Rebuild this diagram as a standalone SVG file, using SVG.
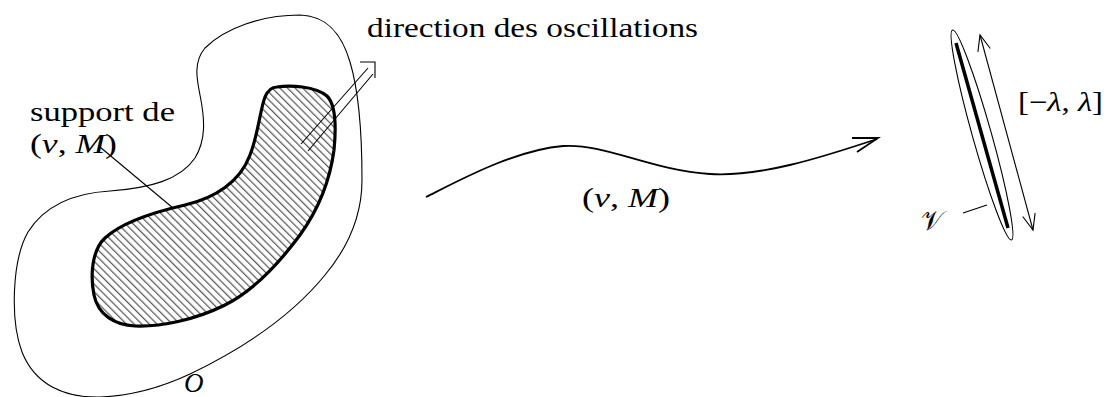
<svg xmlns="http://www.w3.org/2000/svg" width="1106" height="397" viewBox="0 0 1106 397">
<style>
  .thin{fill:none;stroke:#000;stroke-width:1.1}
  .mid{fill:none;stroke:#000;stroke-width:1.8}
  .thick{stroke:#000;stroke-width:3.2;stroke-linejoin:round}
  text{font-family:'Liberation Serif','Times New Roman',serif;font-size:27px;fill:#000}
  .it{font-style:italic}
</style>
<defs>
  <pattern id="hatch" patternUnits="userSpaceOnUse" width="5.4" height="5.4" patternTransform="rotate(-45)">
    <line x1="0.7" y1="0" x2="0.7" y2="5.4" stroke="#000" stroke-width="0.8"/>
  </pattern>
</defs>

<g id="region-O">
  <path class="thin" d="M300,15 C262,15 225,28 205,48 C193,62 197,80 200,95 C205,120 206,140 195,158 C180,180 150,188 110,191 C75,193 45,205 28,232 C12,260 10,320 22,352 C35,385 65,398 100,397 C130,396 160,388 190,374 C240,350 290,318 325,275 C350,245 362,215 362,180 C362,140 360,95 350,62 C343,38 330,16 300,15 Z"/>
  <text class="it" x="184" y="392" font-family="Liberation Serif, serif">O</text>
</g>

<g id="support">
  <path class="thick" fill="url(#hatch)" d="M277,87 C290,85 315,86 327,96 C337,106 336,130 334,150 C330,180 318,210 300,235 C280,262 255,290 225,305 C195,320 160,327 135,326 C115,325 98,315 94,295 C90,275 92,250 105,238 C120,224 150,213 185,205 C215,198 240,182 250,155 C258,135 260,110 265,97 C268,90 272,87 277,87 Z"/>
</g>

<g id="label-support" font-family="Liberation Serif, serif">
  <text x="30" y="121" textLength="145" lengthAdjust="spacingAndGlyphs" font-family="Liberation Serif, serif">support de</text>
  <text x="30" y="153" textLength="87" lengthAdjust="spacingAndGlyphs" font-family="Liberation Serif, serif">(<tspan class="it">v</tspan>, <tspan class="it">M</tspan>)</text>
</g>

<g id="label-direction">
  <text x="367" y="37" textLength="331" lengthAdjust="spacingAndGlyphs" font-family="Liberation Serif, serif">direction des oscillations</text>
</g>

<g id="target">
  <ellipse class="thin" cx="982" cy="135" rx="9.5" ry="109" transform="rotate(-15.7 982 135)"/>
  <line x1="956" y1="43" x2="1008" y2="228" stroke="#000" stroke-width="3.5"/>
  <text x="921" y="230" font-family="DejaVu Serif, Noto Sans, serif" font-size="28">𝒱</text>
  <text x="1018" y="111" textLength="85" lengthAdjust="spacingAndGlyphs" font-family="Liberation Serif, serif">[−<tspan class="it">λ</tspan>, <tspan class="it">λ</tspan>]</text>
</g>

<g id="connectors">
  <line class="thin" x1="100" y1="147" x2="173" y2="208"/>
  <line class="thin" x1="301" y1="144" x2="368" y2="68"/>
  <line class="thin" x1="308" y1="151" x2="373" y2="74"/>
  <polyline class="thin" points="360,62 375,62 375,78"/>
  <path class="mid" d="M426,197 C460,180 515,150 563,146 C605,143 650,170 710,174 C760,177 820,158 877,139"/>
  <polyline class="mid" points="852,138 878,138 857,152" stroke-linejoin="miter"/>
  <text x="582" y="207" textLength="88" lengthAdjust="spacingAndGlyphs" font-family="Liberation Serif, serif">(<tspan class="it">v</tspan>, <tspan class="it">M</tspan>)</text>
  <line class="thin" x1="980" y1="35" x2="1033" y2="230"/>
  <polyline class="thin" points="977.9,51.9 980,35 990.3,48.5"/>
  <polyline class="thin" points="1022.7,216.5 1033,230 1035.1,213.1"/>
  <line class="thin" x1="963" y1="213" x2="987" y2="205"/>
</g>
</svg>
